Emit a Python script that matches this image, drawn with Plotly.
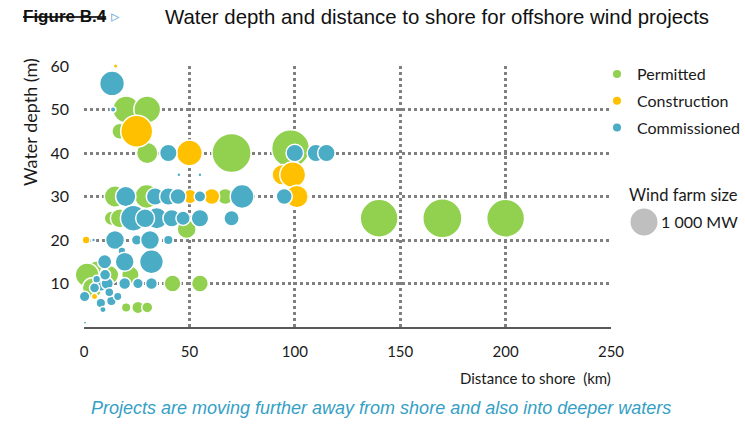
import plotly.graph_objects as go

# ---- data (distance to shore km, water depth m, capacity MW) ----
permitted_x = [20, 30, 17, 30, 70, 98, 140, 170, 200, 14.7, 29.7, 67, 13, 17, 48.7,
               6.6, 1.5, 4, 42, 55, 20, 25.6, 30, 12, 22]
permitted_y = [50, 50, 45, 40, 40, 41, 25, 25, 25, 30, 30, 30, 25, 25, 22.5,
               12.5, 12, 9, 10, 10, 4.5, 4.5, 4.5, 12, 12]
permitted_mw = [700, 700, 250, 450, 1500, 1400, 1400, 1500, 1400, 450, 550, 250, 200, 350, 350,
                550, 550, 400, 280, 280, 90, 150, 120, 350, 300]

construction_x = [25, 50, 94, 99, 101, 60.6, 50.3, 1, 5, 15]
construction_y = [45, 40, 35, 35, 30, 30, 30, 20, 7, 60]
construction_mw = [1000, 650, 400, 650, 500, 250, 200, 60, 40, 20]

commissioned_x = [13.3, 13.8, 40, 100, 110, 115, 45, 55, 95, 75, 19.8, 33.7, 40, 44.6, 55,
                  23.4, 34.5, 41.6, 47, 55, 70, 4.5, 14.7, 25, 31.3, 40, 18,
                  9.8, 19.3, 32, 8, 11, 19.3, 25.6, 32, 0.3, 8, 9, 13, 0.5, 5,
                  10, 6, 12, 16, 29]
commissioned_y = [56, 50, 40, 40, 40, 40, 35, 35, 30, 30, 30, 30, 30, 30, 30,
                  25, 25, 25, 25, 25, 25, 20, 20, 20, 20, 20, 17.5,
                  15, 15, 15, 10, 10, 10, 10, 10, 7, 5.5, 4, 6, 1, 9,
                  12, 11, 8, 7, 25]
commissioned_mw = [600, 30, 300, 300, 300, 300, 15, 15, 250, 550, 400, 300, 300, 250, 130,
                   650, 450, 300, 200, 300, 230, 15, 350, 110, 350, 90, 60,
                   200, 350, 550, 230, 150, 140, 110, 140, 110, 90, 40, 90, 10, 100,
                   120, 60, 80, 70, 350]

x_ticks = [0, 50, 100, 150, 200, 250]
y_ticks = [10, 20, 30, 40, 50, 60]

GREEN = "#92d050"
ORANGE = "#ffc000"
BLUE = "#4bacc6"
SIZEREF = 1.95
FONT = "Lato, Liberation Sans, sans-serif"
NARROW = "Liberation Sans Narrow, Liberation Sans, Arial, sans-serif"

L, R, T, B = 84, 134, 66, 99
PW, PH = 745 - L - R, 426 - T - B


def px(xp):
    return (xp - L) / PW


def py(yp):
    return (426 - B - yp) / PH


fig = go.Figure()

for name, xs, ys, mw, col in [
    ("Permitted", permitted_x, permitted_y, permitted_mw, GREEN),
    ("Construction", construction_x, construction_y, construction_mw, ORANGE),
    ("Commissioned", commissioned_x, commissioned_y, commissioned_mw, BLUE),
]:
    fig.add_trace(go.Scatter(
        x=xs, y=ys, mode="markers", name=name, showlegend=False,
        cliponaxis=False,
        marker=dict(size=mw, sizemode="area", sizeref=SIZEREF, color=col,
                    line=dict(color="white", width=1.5), opacity=1),
        hovertemplate=name + ": %{x} km, %{y} m<extra></extra>",
    ))
    fig.add_trace(go.Scatter(
        x=[None], y=[None], mode="markers", name=name, legendgroup=name,
        marker=dict(size=8, color=col), showlegend=True,
    ))

fig.update_layout(
    width=745, height=426,
    margin=dict(l=L, r=R, t=T, b=B, autoexpand=False),
    paper_bgcolor="white", plot_bgcolor="white",
    font=dict(family=FONT, size=15, color="#1a1a1a"),
    showlegend=True,
    legend=dict(x=px(597), y=py(57), xanchor="left", yanchor="top",
                font=dict(family=FONT, size=16, color="#1a1a1a"),
                tracegroupgap=3, bgcolor="rgba(0,0,0,0)"),
    xaxis=dict(range=[0, 250], tickvals=x_ticks, showgrid=True,
               gridcolor="#808080", griddash="dot", gridwidth=3,
               zeroline=False, showline=True, linecolor="#595959", linewidth=2,
               ticks="", ticklabelstandoff=10,
               tickfont=dict(family=FONT, size=15, color="#1a1a1a")),
    yaxis=dict(range=[0, 60], tickvals=y_ticks, showgrid=True,
               gridcolor="#808080", griddash="dot", gridwidth=3,
               zeroline=False, showline=False, ticks="", ticklabelstandoff=14,
               tickfont=dict(family=FONT, size=16, color="#1a1a1a")),
    annotations=[
        dict(text="<b><s>Figure B.4</s></b> <span style='color:#7fb2d9'>▹</span>",
             xref="paper", yref="paper", x=px(21), y=py(17),
             xanchor="left", yanchor="middle", showarrow=False,
             font=dict(family=NARROW, size=17, color="#111111")),
        dict(text="Water depth and distance to shore for offshore wind projects",
             xref="paper", yref="paper", x=px(163), y=py(17),
             xanchor="left", yanchor="middle", showarrow=False,
             font=dict(family=NARROW, size=20.4, color="#111111")),
        dict(text="Water depth (m)", xref="paper", yref="paper",
             x=px(30), y=py(122), textangle=-90,
             xanchor="center", yanchor="middle", showarrow=False,
             font=dict(family=FONT, size=18, color="#1a1a1a")),
        dict(text="Distance to shore  (km)", xref="paper", yref="paper",
             x=px(613), y=py(378),
             xanchor="right", yanchor="middle", showarrow=False,
             font=dict(family=FONT, size=15, color="#1a1a1a")),
        dict(text="<i>Projects are moving further away from shore and also into deeper waters</i>",
             xref="paper", yref="paper", x=px(381), y=py(408),
             xanchor="center", yanchor="middle", showarrow=False,
             font=dict(family=NARROW, size=18, color="#35a0c4")),
        dict(text="Wind farm size", xref="paper", yref="paper",
             x=px(627), y=py(195),
             xanchor="left", yanchor="middle", showarrow=False,
             font=dict(family=FONT, size=16.5, color="#1a1a1a")),
        dict(text="1 000 MW", xref="paper", yref="paper",
             x=px(659), y=py(222),
             xanchor="left", yanchor="middle", showarrow=False,
             font=dict(family=FONT, size=16, color="#1a1a1a")),
    ],
)

fig.add_shape(type="circle", xref="paper", yref="paper",
              x0=px(630.5), x1=px(657.5),
              y0=py(235.5), y1=py(208.5),
              fillcolor="#bfbfbf", line=dict(width=0))

fig.write_html("out.html", config={"displayModeBar": False},
               post_script="document.body.style.margin='0px';document.body.style.overflow='hidden';")
